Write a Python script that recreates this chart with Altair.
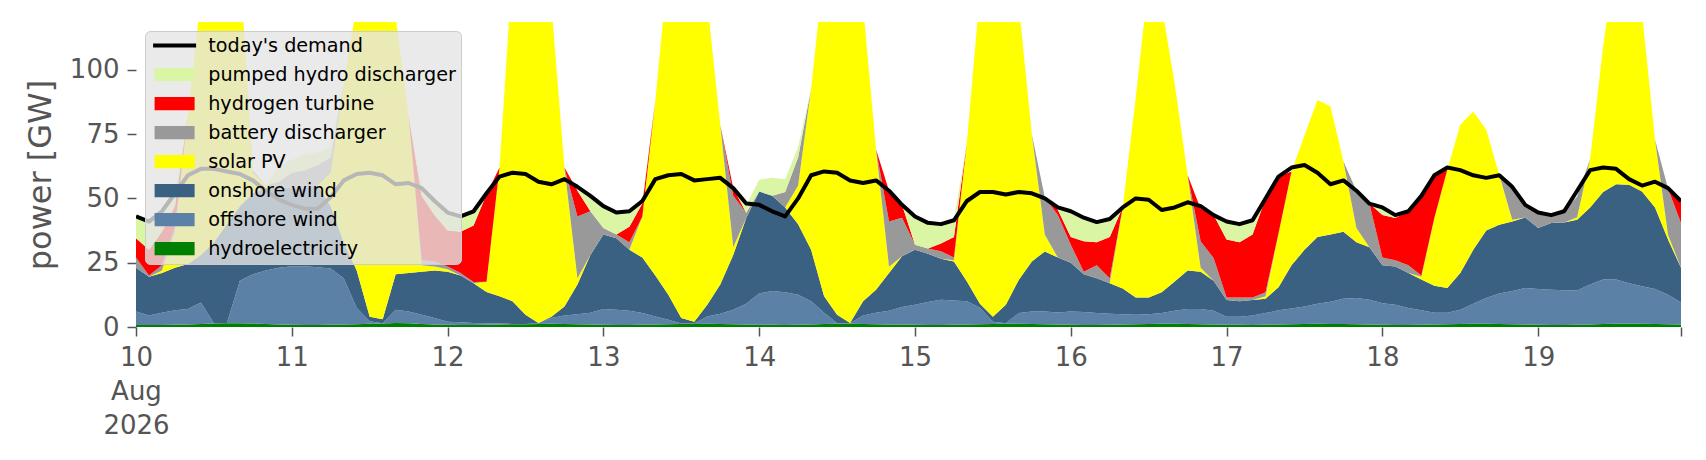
import altair as alt
import pandas as pd

# 2-hourly values, 10 Aug 00:00 .. 19 Aug 22:00, GW (one row per day)
days = list(range(10, 20))
hours = list(range(0, 24, 2))

hydro = [
    0.8, 0.8, 0.8, 0.9, 1.0, 1.2, 1.4, 1.5, 1.5, 1.4, 1.2, 1.0,
    0.9, 0.8, 0.8, 0.9, 1.0, 1.1, 1.3, 1.4, 1.6, 1.5, 1.2, 1.0,
    0.9, 0.8, 0.8, 0.9, 1.0, 1.1, 1.1, 1.2, 1.3, 1.2, 1.1, 1.0,
    0.9, 0.8, 0.8, 0.9, 1.0, 1.1, 1.2, 1.2, 1.3, 1.2, 1.1, 1.0,
    0.9, 0.9, 0.8, 0.9, 1.0, 1.2, 1.3, 1.3, 1.2, 1.1, 1.0, 1.0,
    0.9, 0.8, 0.8, 0.9, 1.0, 1.1, 1.2, 1.3, 1.3, 1.2, 1.1, 1.0,
    0.9, 0.8, 0.8, 0.9, 1.0, 1.1, 1.2, 1.3, 1.3, 1.2, 1.1, 1.0,
    0.9, 0.9, 0.8, 0.9, 1.0, 1.1, 1.2, 1.3, 1.2, 1.2, 1.1, 1.0,
    0.9, 0.8, 0.8, 0.9, 1.0, 1.1, 1.2, 1.3, 1.3, 1.2, 1.1, 1.0,
    0.9, 0.8, 0.8, 0.9, 1.0, 1.2, 1.3, 1.4, 1.3, 1.2, 1.1, 1.0,
]
offshore = [
    5.2, 3.7, 4.7, 5.6, 6.0, 8.3, 0.1, 0.0, 16.5, 19.1, 20.8, 22.0,
    22.7, 22.8, 22.4, 21.8, 18.0, 6.3, 0.9, 0.1, 5.1, 4.5, 3.6, 2.5,
    1.1, 1.0, 0.8, 0.6, 0.4, 0.1, 0.1, 0.3, 2.2, 3.3, 3.9, 4.5,
    6.1, 5.9, 5.5, 4.5, 3.1, 1.7, 0.2, 0.2, 2.8, 4.0, 5.6, 8.0,
    12.1, 13.1, 12.7, 11.6, 9.0, 4.3, 0.2, 0.2, 3.3, 4.4, 5.3, 6.8,
    7.8, 8.9, 9.8, 9.4, 9.0, 6.4, 0.8, 0.2, 4.1, 4.8, 4.9, 4.6,
    5.1, 5.0, 4.6, 4.3, 4.0, 3.7, 3.8, 4.1, 5.0, 5.8, 5.9, 5.3,
    3.1, 3.1, 3.7, 4.5, 5.5, 6.1, 6.8, 7.7, 8.6, 9.8, 10.2, 9.6,
    8.3, 7.9, 6.6, 5.6, 4.5, 4.4, 5.5, 7.7, 10.0, 11.8, 12.9, 14.2,
    13.9, 13.7, 13.5, 13.3, 15.5, 17.3, 17.2, 15.6, 14.5, 13.6, 11.4, 8.5,
]
onshore = [
    17.0, 15.0, 15.5, 16.5, 17.5, 18.5, 31.5, 38.5, 29.0, 31.5, 32.0, 31.5,
    30.4, 30.4, 31.8, 24.3, 14.0, 14.6, 1.8, 1.5, 13.8, 15.0, 16.7, 18.5,
    19.5, 18.2, 15.4, 12.1, 10.6, 8.8, 3.6, 0.1, 0.5, 3.5, 11.5, 22.5,
    29.0, 27.8, 23.7, 21.6, 15.9, 9.7, 2.1, 0.6, 4.6, 11.3, 21.3, 33.4,
    39.7, 37.0, 33.0, 27.5, 20.0, 6.5, 3.3, 0.1, 5.5, 9.0, 14.7, 19.7,
    21.3, 18.8, 15.9, 15.2, 7.7, 1.5, 2.0, 7.2, 13.0, 19.5, 23.4, 21.4,
    19.0, 14.7, 13.6, 11.8, 10.0, 6.7, 6.5, 8.1, 11.4, 15.0, 14.5, 11.7,
    6.5, 6.0, 6.0, 5.6, 9.0, 16.8, 22.0, 26.0, 26.2, 26.0, 21.7, 20.4,
    14.8, 14.8, 13.6, 12.0, 10.5, 9.7, 14.3, 21.0, 26.2, 26.8, 27.0, 27.4,
    23.7, 25.9, 26.3, 27.5, 30.0, 34.0, 37.0, 38.3, 36.9, 31.7, 21.5, 13.5,
]
solar = [
    0, 0, 1, 14, 58, 100, 115, 100, 93, 8, 1, 0,
    0, 0, 0, 13, 62, 103, 131, 127, 100, 61, 2.5, 1.5,
    1, 0, 0, 4, 50, 130, 145, 143, 121, 54, 2.5, 0,
    0, 0, 0, 16, 68, 128, 150, 145, 118, 62, 3, 0,
    0, 0, 0, 15, 62.6, 128, 145, 143, 115, 54.5, 2.4, 0,
    0, 0, 0, 0.5, 54, 121, 146, 136, 106.6, 49.5, 6.5, 0,
    0, 0, 0, 0, 31.6, 77.5, 123.5, 111.5, 77, 37, 1.5, 0,
    0, 0, 0, 1, 21, 36.5, 44.5, 53.3, 49.8, 27.4, 5.5, 0,
    0, 0, 0, 1, 26.4, 45.9, 57.6, 53.8, 39.2, 19.4, 0.7, 0,
    0, 0, 0, 1, 18.8, 56.5, 89.5, 84.7, 69.3, 26.3, 1.9, 0,
]
battery = [
    4, 0.5, 2, 2, 0, 0, 0, 0, 0, 1, 0, 2,
    6, 7, 8, 6, 0, 0, 0, 0, 0, 0, 2, 2,
    1, 1, 0.5, 0, 0, 0, 0, 0, 0, 0, 24, 17,
    2.5, 1.5, 3, 0, 0, 0, 0, 0, 0, 0, 20, 2,
    0, 0, 6, 11, 0, 0, 0, 0, 0, 0, 17.6, 15,
    2, 2, 3, 1, 0, 0, 0, 0, 0, 0, 14.5, 16.6,
    7, 1, 5, 2, 0, 0, 0, 0, 0, 0, 10.3, 8.8,
    1, 1.5, 1, 1.5, 0, 0, 0, 0, 0, 0, 14.5, 17,
    3, 2.5, 3, 0.5, 0, 0, 0, 0, 0, 0, 12.8, 4.9,
    6, 3.1, 4.4, 8, 0, 0, 0, 0, 0, 0, 18, 17.4,
]
hydrogen = [
    7.5, 10, 13, 8, 0, 0, 0, 0, 0, 0, 0, 0,
    0, 0, 0, 0, 0, 0, 0, 0, 0, 0, 25, 18,
    14, 16, 22, 34, 0, 0, 0, 0, 0, 0, 10, 0,
    0, 0, 6, 5, 0, 0, 0, 0, 0, 0, 3, 0,
    0, 0, 0, 0, 0, 0, 0, 0, 0, 0, 12, 5,
    0, 0, 3, 8, 0, 0, 0, 0, 0, 0, 0, 2,
    3, 11.8, 9, 16, 0, 0, 0, 0, 0, 0, 12.7, 16.8,
    22.5, 21.5, 24.5, 36.5, 22, 0, 0, 0, 0, 0, 0, 0,
    16.6, 16.4, 21, 30, 16.6, 0, 0, 0, 0, 0, 0, 0,
    0, 0, 0, 0, 0, 0, 0, 0, 0, 0, 0, 8.6,
]
pumped = [
    8, 10, 8, 5, 0, 0, 0, 0, 0, 0, 0, 6,
    5, 6, 5, 4, 0, 0, 0, 0, 0, 0, 4, 6,
    7, 6, 5, 0, 0, 0, 0, 0, 0, 0, 0, 6,
    8.5, 8.7, 6, 1, 0, 0, 0, 0, 0, 0, 0, 3,
    4.6, 7, 5, 4, 0, 0, 0, 0, 0, 0, 0, 0,
    11, 9.5, 7.5, 6.5, 0, 0, 0, 0, 0, 0, 0, 0,
    9, 8.4, 7.8, 7, 0, 0, 0, 0, 0, 0, 0, 0,
    7, 7, 5.5, 0, 0, 0, 0, 0, 0, 0, 0, 0,
    2.9, 1.1, 0, 0, 0, 0, 0, 0, 0, 0, 0, 0,
    0, 0, 0, 0, 0, 0, 0, 0, 0, 0, 0, 0,
]
demand = [
    43, 41, 45, 52, 59, 61.5, 61.5, 60.5, 59.5, 57, 53, 49.5,
    47.5, 46, 46, 50.5, 57, 59.5, 60, 59, 55.5, 56, 54, 49,
    44.5, 43, 45, 52, 58.5, 60, 59.5, 56.5, 55.5, 57.5, 54.5, 51,
    47, 44.5, 45, 49, 57.5, 59, 59.5, 57, 57.5, 58, 54, 48,
    47.5, 45, 43, 50, 59, 60.5, 60, 57, 56, 57, 53, 47.5,
    43, 40.5, 40, 41.5, 49, 52.5, 52.5, 51.5, 52.5, 52, 50, 46.5,
    45, 42.5, 40.8, 42, 46.5, 50, 49.5, 45.5, 46.5, 48.5, 47, 43.5,
    41, 40, 41.5, 50, 58.5, 62, 63, 60, 55.5, 57, 53, 48,
    46.5, 43.5, 45, 51, 59, 62, 61, 59, 58, 59, 54.5, 47.5,
    44.5, 43.5, 45, 53, 61, 62, 61.5, 57.5, 55, 56.5, 54, 49,
]

times = [f"2026-08-{d:02d}T{h:02d}:00:00Z" for d in days for h in hours]

# bottom to top
stack = [
    ("hydroelectricity", hydro),
    ("offshore wind", offshore),
    ("onshore wind", onshore),
    ("solar PV", solar),
    ("battery discharger", battery),
    ("hydrogen turbine", hydrogen),
    ("pumped hydro discharger", pumped),
]
colors = {
    "today's demand": "#000000",
    "pumped hydro discharger": "#daf5a4",
    "hydrogen turbine": "#ff0000",
    "battery discharger": "#999999",
    "solar PV": "#ffff00",
    "onshore wind": "#3b6182",
    "offshore wind": "#5b82a6",
    "hydroelectricity": "#008000",
}

rows = []
for layer, (name, vals) in enumerate(stack):
    for t, v in zip(times, vals):
        rows.append({"time": t, "source": name, "value": v, "layer": layer})
gen = pd.DataFrame(rows)
load = pd.DataFrame({"time": times, "demand": demand})

grey = "#555555"
font = "DejaVu Sans"

start = alt.DateTime(year=2026, month=8, date=10, hours=0, utc=True)
end = alt.DateTime(year=2026, month=8, date=19, hours=22, utc=True)
x_scale = alt.Scale(type="utc", domain=[start, end])
x_axis = alt.Axis(
    values=[alt.DateTime(year=2026, month=8, date=d, utc=True) for d in days] + [end],
    labelExpr=(
        "utchours(datum.value) > 0 ? '' : "
        "utcdate(datum.value) == 10 ? [utcFormat(datum.value, '%-d'), utcFormat(datum.value, '%b'), utcFormat(datum.value, '%Y')] : "
        "utcFormat(datum.value, '%-d')"
    ),
    labelFontSize=26, labelColor=grey, labelFont=font, labelLineHeight=34,
    labelFlush=False, labelOverlap=False, labelPadding=8,
    tickColor=grey, tickSize=9, tickWidth=1.5,
    domain=False, grid=False, title=None,
)
y_axis = alt.Axis(
    values=[0, 25, 50, 75, 100],
    title="power [GW]", titleFontSize=32, titleFont=font, titleFontWeight="normal",
    titleColor=grey, titlePadding=12,
    labelFontSize=26, labelColor=grey, labelFont=font, labelPadding=8, labelFlush=False,
    tickColor=grey, tickSize=9, tickWidth=1.5,
    domain=False, grid=False,
)
y_scale = alt.Scale(domain=[0, 118.6], nice=False)

# filled bar symbols: thin one for the demand line, patch-sized for the rest
legend = alt.Legend(
    title=None, orient="top-left", offset=9,
    fillColor="rgba(229,229,229,0.8)", strokeColor="#cccccc", cornerRadius=5, padding=5,
    labelFont=font, labelFontSize=19.2, labelColor="black", labelOffset=24, labelLimit=400,
    symbolType={"expr": "datum.index === 0 ? 'M-4.3,-0.4H4.3V0.4H-4.3Z' : 'M-4,-1.33H4V1.33H-4Z'"},
    symbolSize=100, symbolOpacity=1, symbolOffset=15, symbolStrokeWidth=0,
    rowPadding=9,
)

areas = alt.Chart(gen).mark_area(clip=True).encode(
    x=alt.X("time:T", scale=x_scale, axis=x_axis),
    y=alt.Y("value:Q", stack="zero", scale=y_scale, axis=y_axis),
    color=alt.Color(
        "source:N",
        scale=alt.Scale(domain=list(colors.keys()), range=list(colors.values())),
        legend=legend,
    ),
    order=alt.Order("layer:Q"),
)

line = alt.Chart(load).mark_line(color="black", strokeWidth=4, strokeJoin="round", clip=True).encode(
    x=alt.X("time:T", scale=x_scale, axis=x_axis),
    y=alt.Y("demand:Q", scale=y_scale, axis=y_axis),
)

chart = alt.layer(areas, line).properties(
    width=1545, height=305,
    padding={"left": 128, "top": 14, "right": 17, "bottom": 125},
    autosize=alt.AutoSizeParams(type="none"),
).configure(font=font).configure_view(stroke=None)

chart.save("out.html", embed_options={"renderer": "svg", "actions": False})
